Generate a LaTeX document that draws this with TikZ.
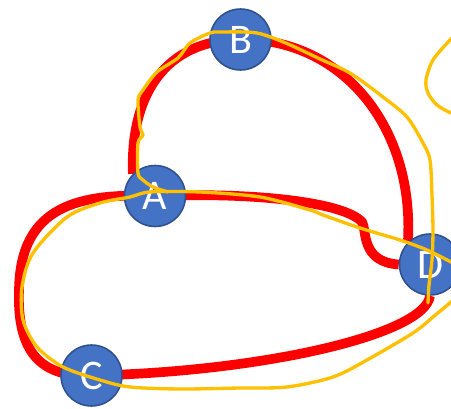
\documentclass[tikz,border=0pt]{standalone}
\usepackage{fontspec}
\setsansfont{Carlito}
\usetikzlibrary{backgrounds}
\definecolor{gnblue}{HTML}{4472C4}
\definecolor{gnrim}{HTML}{2F528F}
\definecolor{gnred}{HTML}{FF0000}
\definecolor{gnyellow}{HTML}{FFC000}
\tikzset{
  vtx/.style={circle, fill=gnblue, draw=gnrim, line width=0.9pt,
    minimum size=1.22cm, inner sep=0pt, text=white,
    font=\sffamily\fontsize{24}{24}\selectfont},
  walk/.style={gnred, line width=5.5pt},
  trail/.style={gnyellow, line width=1.9pt, line cap=round, line join=round},
}

\begin{document}
\begin{tikzpicture}[x=0.02cm, y=-0.02cm]
        \useasboundingbox (0,0) rectangle (451,409);
        \node[vtx] (B) at (240.5,39.5) {B};
        \node[vtx] (A) at (155,196) {A};
        \node[vtx] (D) at (430,264.5) {D};
        \node[vtx] (C) at (91.5,375.5) {C};
        \begin{scope}[on background layer]
          \draw[walk] (A.135) .. controls (130,95) and (165,40) .. (B.center)
            .. controls (340,38) and (415,125) .. (D.135);
          \draw[walk] (C.center) .. controls (35,378) and (17,345) .. (19,290)
            .. controls (20,205) and (80,193) .. (A.center)
            .. controls (260,192) and (345,203) .. (362,222)
            .. controls (367,229) and (360,262) .. (D.west);
          \draw[walk] (D.south) .. controls (425,335) and (260,372) .. (C.center);
        \end{scope}
        \draw[trail] plot[smooth] coordinates {(428,303) (429,285) (432,260)
          (433,230) (432,195) (430,160) (423,143) (407,117) (383,97) (350,73)
          (320,59) (288,44) (257,33) (222,32) (210,33) (190,43) (178,58)
          (157,72) (143,90) (138,100) (140,127) (143,135) (138,143) (138,173)
          (143,180) (153,187) (168,192)};
        \draw[trail] plot[smooth] coordinates {(470,272) (451,262) (427,250)
          (400,240) (360,228) (323,215) (310,210) (260,197) (200,192)
          (150,192) (130,197) (100,203) (67,217) (33,253) (22,287) (23,320)
          (37,347) (63,367) (100,380) (130,387) (180,389) (240,388) (287,387)
          (333,377) (367,360) (413,333) (433,317) (451,302) (465,290)};
        \draw[trail] plot[smooth] coordinates {(465,25) (450,40) (433,60)
          (426,80) (428,93) (437,105) (451,113) (465,118)};
      \end{tikzpicture}
\end{document}
